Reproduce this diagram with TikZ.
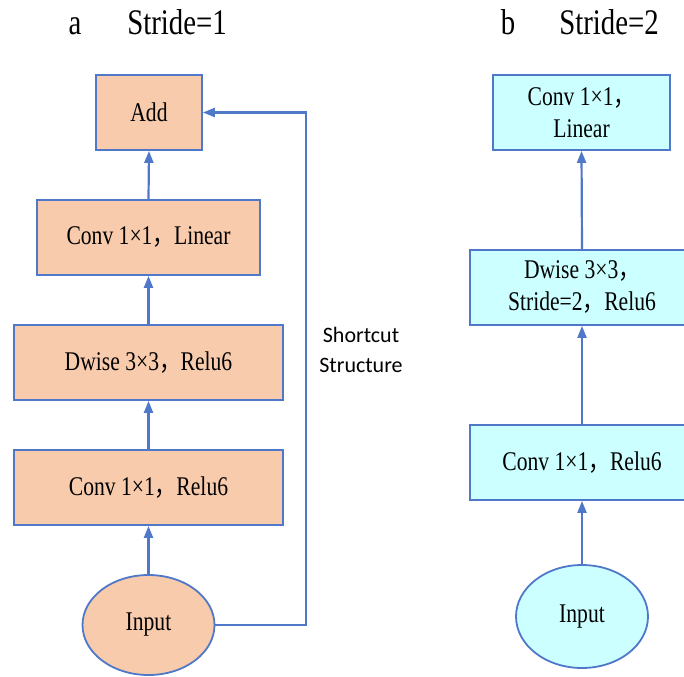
\documentclass[tikz,border=0pt]{standalone}
\usepackage{fontspec}
\setmainfont[FakeStretch=0.8]{Liberation Serif}
\newfontfamily\cjk[FakeStretch=0.8]{Noto Sans CJK SC}
\newfontfamily\shortfont{Carlito}
\usetikzlibrary{arrows.meta,shapes.geometric}
\definecolor{bordc}{HTML}{4F78C8}
\definecolor{orfill}{HTML}{F8CBAD}
\definecolor{cyfill}{HTML}{CCFFFF}
\newcommand{\fw}{{\cjk ，}}
\begin{document}
\begin{tikzpicture}[x=1pt,y=-1pt,
  blk/.style={draw=bordc, line width=1.8pt, inner sep=0pt, align=center,
    font=\fontsize{27}{32}\selectfont, minimum height=75pt},
  obox/.style={blk, fill=orfill},
  cbox/.style={blk, fill=cyfill},
  oval/.style={ellipse, draw=bordc, line width=1.8pt, inner sep=0pt,
    font=\fontsize{27}{32}\selectfont, minimum width=132pt, minimum height=100pt},
  arr/.style={draw=bordc, line width=2.2pt, -{Triangle[length=12pt,width=9pt]}},
  ttl/.style={inner sep=0pt, anchor=base, font=\fontsize{36}{40}\selectfont}]
\useasboundingbox (0,0) rectangle (684,676);
\clip (0,0) rectangle (684,676);
% titles
\node[ttl] (ta) at (75,35) {a};
\node[ttl] (tsa) at (177,35) {Stride=1};
\node[ttl] (tb) at (508,35) {b};
\node[ttl] (tsb) at (609,35) {Stride=2};
% left column
\node[obox, minimum width=106pt] (add) at (149,112.5) {Add};
\node[obox, minimum width=223pt] (linL) at (148.5,237.5) {Conv 1×1\fw Linear};
\node[obox, minimum width=269pt] (dwL) at (148.5,362.5) {Dwise 3×3\fw Relu6};
\node[obox, minimum width=269pt] (reL) at (148.5,487.5) {Conv 1×1\fw Relu6};
\node[oval, fill=orfill] (inL) at (148.5,625) {Input};
\draw[arr] (inL.north) -- (reL.south);
\draw[arr] (reL.north) -- (dwL.south);
\draw[arr] (dwL.north) -- (linL.south);
\draw[arr] (linL.north) -- (add.south);
\coordinate (sx) at (306,0);
\draw[arr] (inL.east) -- (inL.east -| sx) |- (add.east);
\node[inner sep=0pt, align=center, font=\shortfont\fontsize{22}{30}\selectfont] (sc) at (361,350) {Shortcut\\Structure};
% right column
\node[cbox, minimum width=177pt] (linR) at (581.5,112.5) {Conv 1×1\fw\\Linear};
\node[cbox, minimum width=224pt] (dwR) at (582,287.5) {Dwise 3×3\fw\\Stride=2\fw Relu6};
\node[cbox, minimum width=224pt] (reR) at (582,462.5) {Conv 1×1\fw Relu6};
\node[oval, fill=cyfill, minimum height=103pt] (inR) at (582,616.5) {Input};
\draw[arr] (inR.north) -- (reR.south);
\draw[arr] (reR.north) -- (dwR.south);
\draw[arr] (dwR.north) -- (linR.south);
\end{tikzpicture}
\end{document}
